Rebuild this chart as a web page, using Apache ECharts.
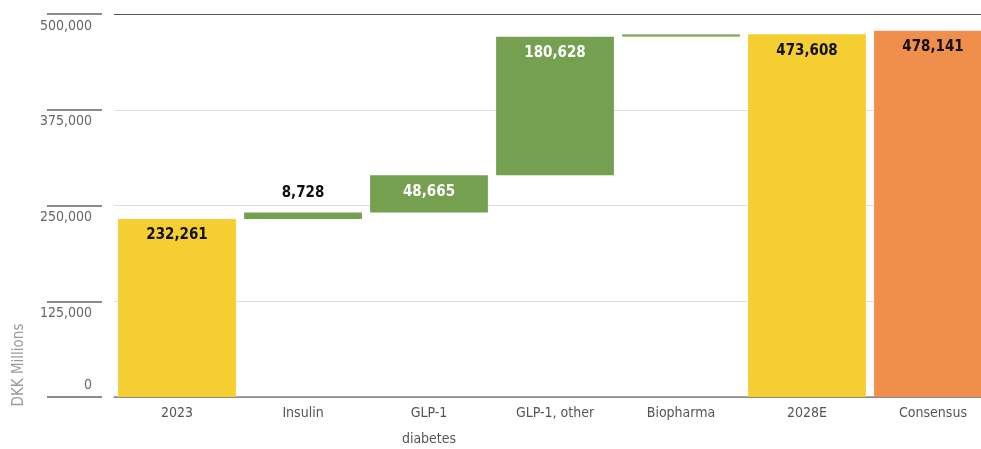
<!DOCTYPE html>
<html>
<head>
<meta charset="utf-8">
<script src="https://cdn.jsdelivr.net/npm/echarts@6/dist/echarts.min.js"></script>
<style>
html,body{margin:0;padding:0;background:#fff;}
#chart{width:981px;height:449px;}
</style>
</head>
<body>
<div id="chart"></div>
<script>
// waterfall data (DKK millions)
var categories = ['2023', 'Insulin', 'GLP-1\ndiabetes', 'GLP-1, other', 'Biopharma', '2028E', 'Consensus'];
var baseValues = [0, 232261, 240989, 289654, 470282, 0, 0];
var barValues = [232261, 8728, 48665, 180628, 3326, 473608, 478141];
var barLabels = ['232,261', '8,728', '48,665', '180,628', '', '473,608', '478,141'];
var yTicks = [0, 125000, 250000, 375000, 500000];

var YELLOW = '#F5CF32', GREEN = '#74A04F', ORANGE = '#F08E4B';
var barColors = [YELLOW, GREEN, GREEN, GREEN, '#86AE6A', YELLOW, ORANGE];
var labelColors = ['#111', '#111', '#fff', '#fff', '#fff', '#111', '#111'];
var labelPos = ['insideTop', 'top', 'insideTop', 'insideTop', 'insideTop', 'insideTop', 'insideTop'];
var FONT = '"Liberation Sans Narrow", "DejaVu Sans Condensed", "Roboto", sans-serif';

function fmt(v) {
	return v.toLocaleString('en-US');
}

var myChar = echarts.init(document.getElementById('chart'));

var visData = barValues.map(function(v, i) {
	return {
		value: v,
		itemStyle: { color: barColors[i] },
		label: {
			show: barLabels[i] !== '',
			position: labelPos[i],
			distance: labelPos[i] == 'top' ? 12 : 9,
			color: labelColors[i],
			formatter: barLabels[i]
		}
	};
});

var yBase = {
	type: 'value',
	min: yTicks[0],
	max: yTicks[yTicks.length - 1],
	interval: 125000,
	position: 'left',
	offset: 12,
	axisLine: { show: false }
};

var myOption = {
	animation: false,
	grid: { left: 114, width: 882, top: 14, bottom: 52, outerBoundsMode: 'none', containLabel: false },
	xAxis: {
		type: 'category',
		data: categories,
		axisLine: { lineStyle: { color: '#8a8a8a', width: 1.5 } },
		axisTick: { show: false },
		axisLabel: {
			color: '#555',
			fontFamily: FONT,
			fontSize: 14,
			lineHeight: 26,
			margin: 3,
			verticalAlign: 'top'
		}
	},
	yAxis: [
		Object.assign({}, yBase, {
			axisTick: { show: true, length: 55, lineStyle: { color: '#666', width: 1.5 } },
			splitLine: { show: true, lineStyle: { color: ['#8a8a8a', '#dedede', '#dedede', '#dedede', '#555'], width: 1.2 } },
			axisLabel: {
				margin: 10,
				color: '#666',
				fontFamily: FONT,
				fontSize: 14,
				verticalAlign: 'top',
				padding: [5, 0, 0, 0],
				formatter: function(v) { return v === 0 ? '' : fmt(v); }
			}
		}),
		Object.assign({}, yBase, {
			axisTick: { show: false },
			splitLine: { show: false },
			axisLabel: {
				margin: 10,
				color: '#666',
				fontFamily: FONT,
				fontSize: 14,
				verticalAlign: 'bottom',
				padding: [0, 0, 5, 0],
				formatter: function(v) { return v === 0 ? '0' : ''; }
			}
		})
	],
	graphic: [{
		type: 'text',
		x: 19,
		y: 365,
		rotation: Math.PI / 2,
		style: {
			text: 'DKK Millions',
			fill: '#9a9a9a',
			font: '15px ' + FONT,
			align: 'center',
			verticalAlign: 'middle'
		}
	}],
	series: [{
		type: 'bar',
		stack: 'wf',
		barCategoryGap: '6.5%',
		silent: true,
		itemStyle: { color: 'transparent' },
		data: baseValues
	}, {
		type: 'bar',
		stack: 'wf',
		label: {
			fontFamily: FONT,
			fontWeight: 'bold',
			fontSize: 15
		},
		data: visData
	}]
};
myChar.setOption(myOption);
</script>
</body>
</html>
